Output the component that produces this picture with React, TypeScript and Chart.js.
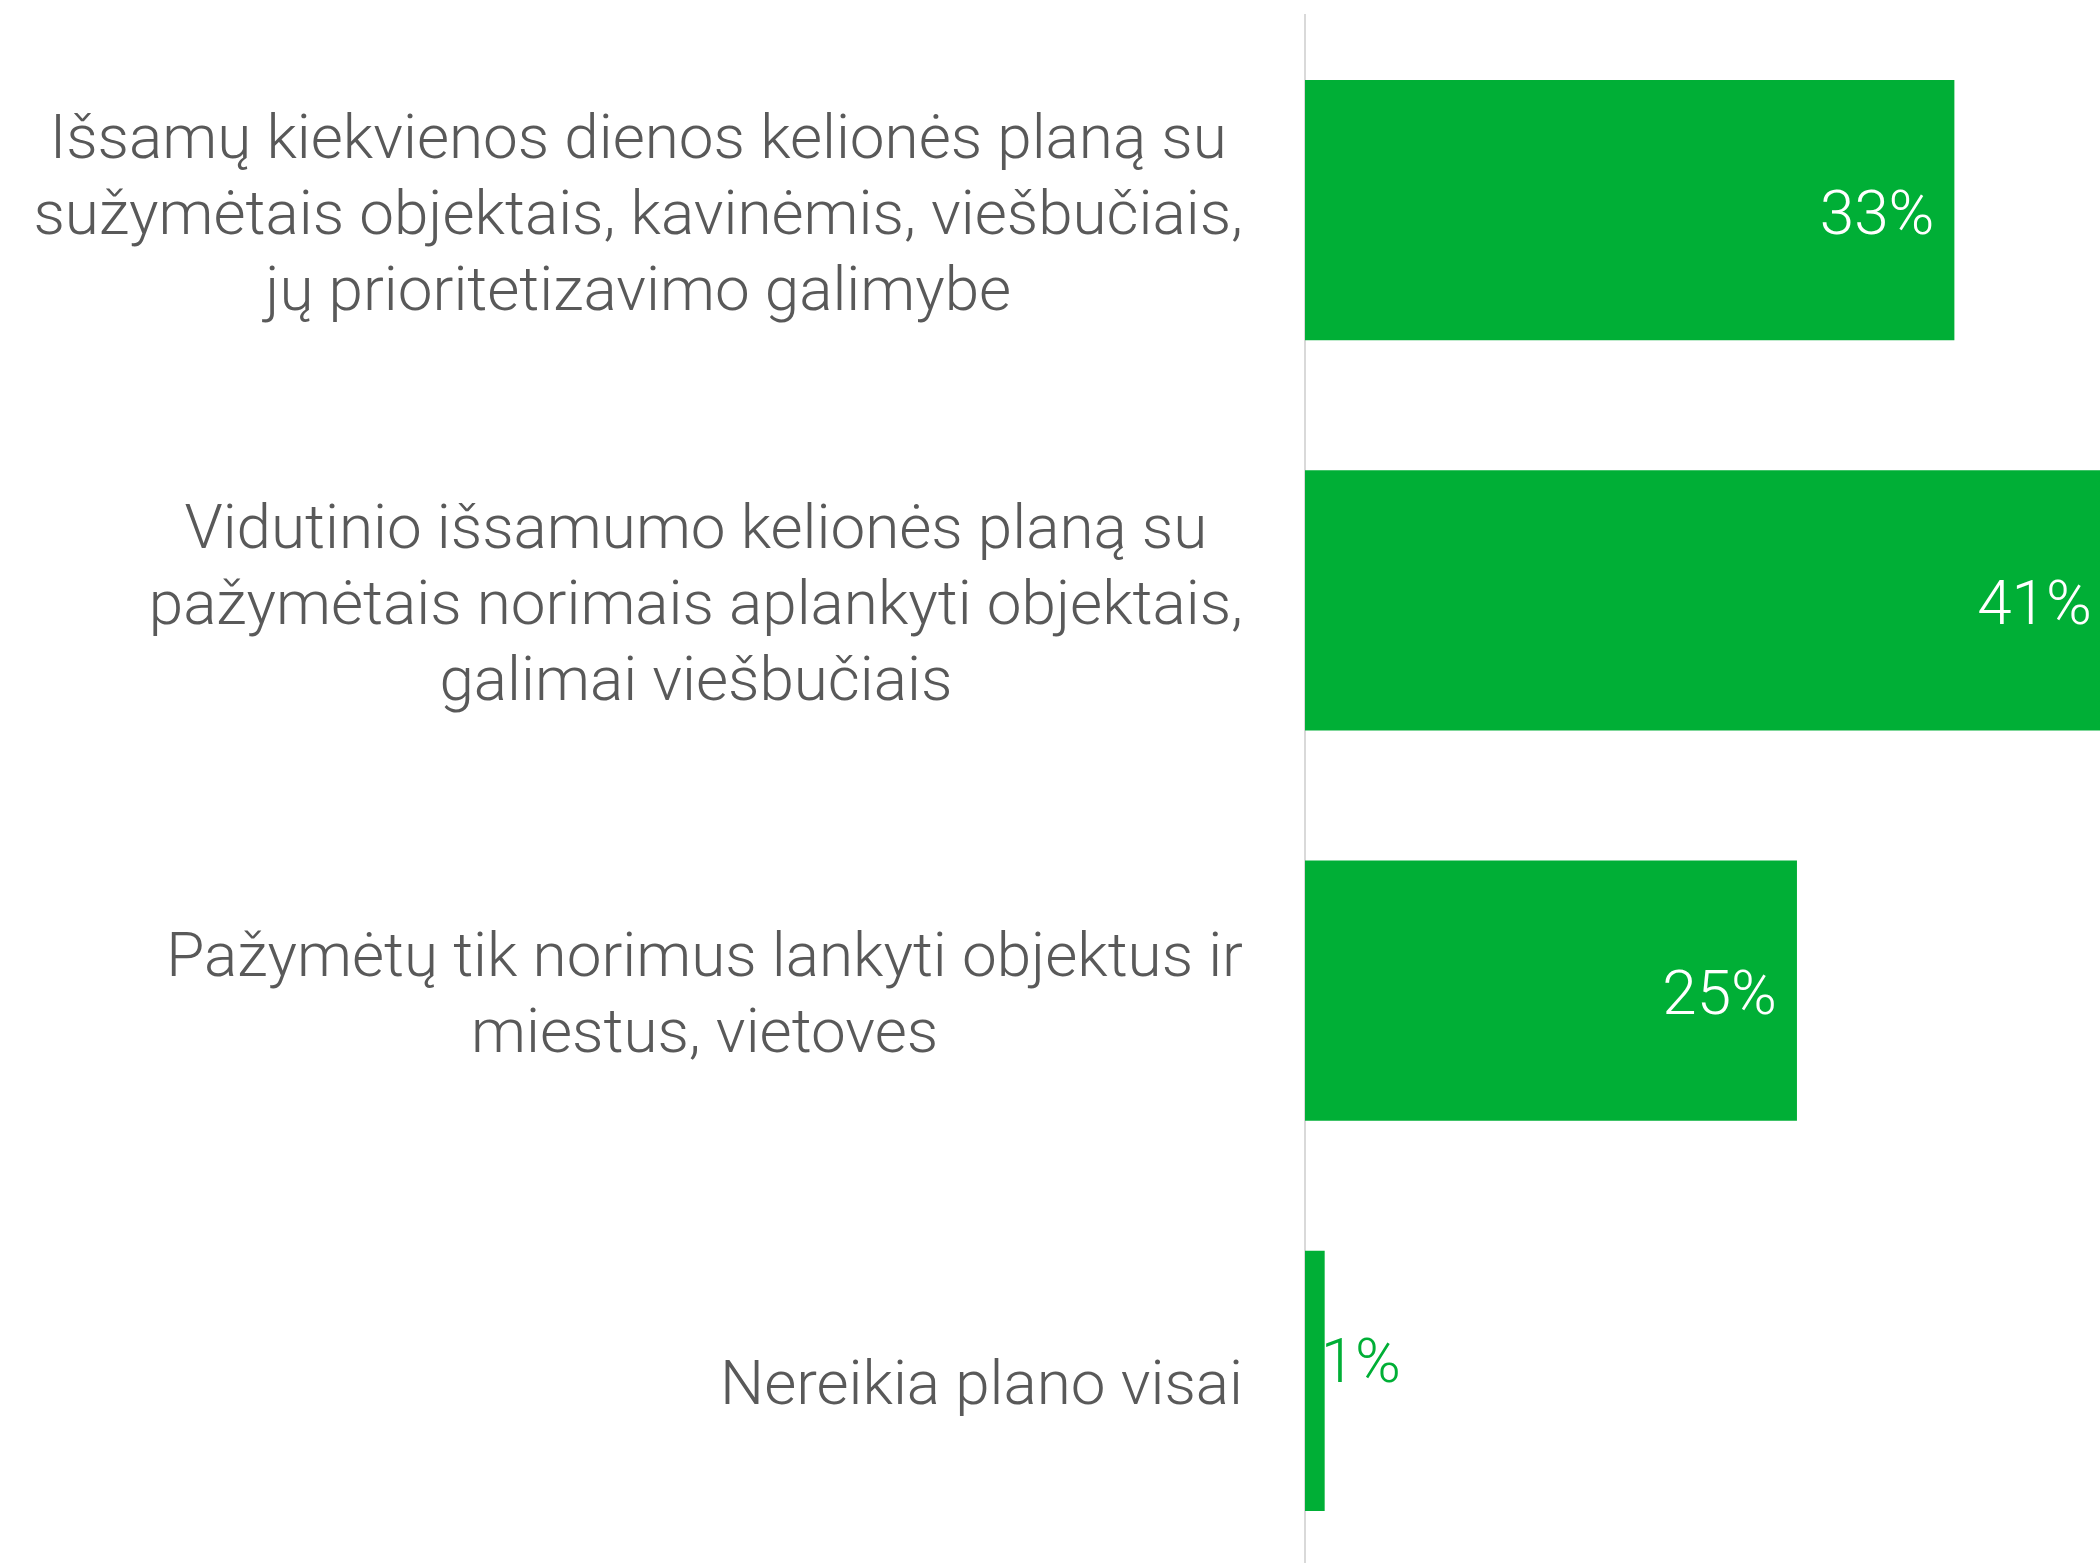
import React, { useEffect, useRef } from "react";
import { Chart, registerables } from "chart.js";

Chart.register(...registerables);

const categories: string[][] = [
  ["Išsamų kiekvienos dienos kelionės planą su", "sužymėtais objektais, kavinėmis, viešbučiais,", "jų prioritetizavimo galimybe"],
  ["Vidutinio išsamumo kelionės planą su", "pažymėtais norimais aplankyti objektais,", "galimai viešbučiais"],
  ["Pažymėtų tik norimus lankyti objektus ir", "miestus, vietoves"],
  ["Nereikia plano visai"],
];
const values: number[] = [33, 41, 25, 1];
const valueLabels: string[] = ["33%", "41%", "25%", "1%"];

const BAR_COLOR = "#00AF36";
const TEXT_COLOR = "#595959";
const FONT = "300 62px Roboto, 'Liberation Sans', sans-serif";

const labelPlugin = {
  id: "customLabels",
  afterDraw(chart: any) {
    const ctx = chart.ctx as CanvasRenderingContext2D;
    const yScale = chart.scales.y;
    ctx.save();
    ctx.font = FONT;
    ctx.textBaseline = "middle";
    const rightEdge = 1243;
    const lineHeight = 76;
    categories.forEach((lines, i) => {
      const cy = yScale.getPixelForValue(i) + 8;
      const widest = Math.max(...lines.map((l) => ctx.measureText(l).width));
      const cx = rightEdge - widest / 2;
      ctx.fillStyle = TEXT_COLOR;
      ctx.textAlign = "center";
      lines.forEach((l, j) => {
        ctx.fillText(l, cx, cy + (j - (lines.length - 1) / 2) * lineHeight);
      });
    });
    const meta = chart.getDatasetMeta(0);
    meta.data.forEach((bar: any, i: number) => {
      const v = values[i];
      if (v >= 5) {
        ctx.fillStyle = "#FFFFFF";
        ctx.textAlign = "right";
        ctx.fillText(valueLabels[i], bar.x - 20, bar.y + 8);
      } else {
        ctx.fillStyle = BAR_COLOR;
        ctx.textAlign = "left";
        ctx.fillText(valueLabels[i], bar.x - 4, bar.y - 14);
      }
    });
    ctx.restore();
  },
};

export default function App() {
  const ref = useRef<HTMLCanvasElement>(null);
  useEffect(() => {
    if (!ref.current) return;
    const chart = new Chart(ref.current, {
      type: "bar",
      data: {
        labels: categories.map((c) => c.join(" ")),
        datasets: [
          {
            data: values,
            backgroundColor: BAR_COLOR,
            borderWidth: 0,
            categoryPercentage: 1,
            barPercentage: 0.667,
          },
        ],
      },
      options: {
        indexAxis: "y",
        animation: false,
        responsive: false,
        devicePixelRatio: 1,
        layout: { padding: { top: 15, left: 1297, right: 0, bottom: 0 } },
        plugins: { legend: { display: false }, tooltip: { enabled: false } },
        scales: {
          x: { display: false, min: 0, max: 40.4 },
          y: {
            grid: { display: false },
            ticks: { display: false },
            border: { display: true, color: "#D9D9D9", width: 2 },
          },
        },
      },
      plugins: [labelPlugin],
    });
    return () => chart.destroy();
  }, []);
  return (
    <div style={{ position: "fixed", left: 0, top: 0, width: 2100, height: 1576, background: "#fff" }}>
      <canvas ref={ref} width={2100} height={1576} style={{ display: "block" }} />
    </div>
  );
}
